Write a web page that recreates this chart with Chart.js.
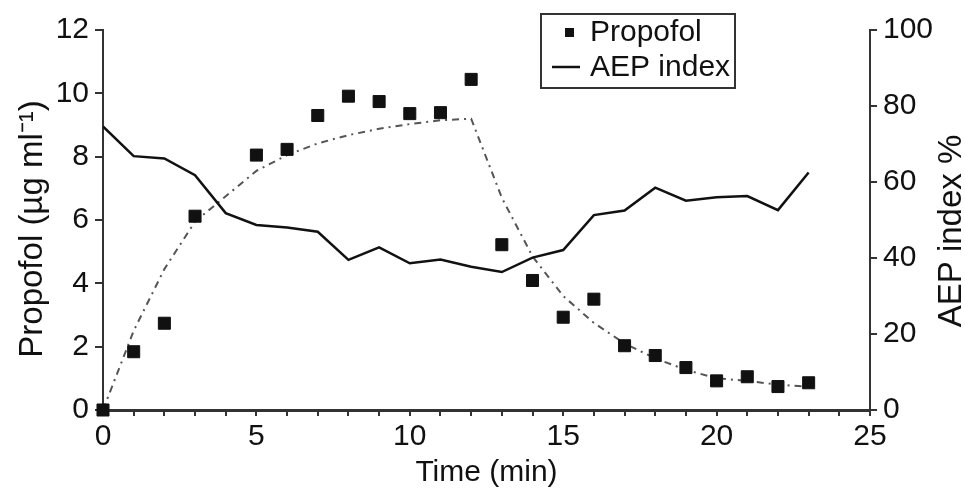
<!DOCTYPE html>
<html>
<head>
<meta charset="utf-8">
<script src="https://cdn.jsdelivr.net/npm/chart.js@4.4.1/dist/chart.umd.min.js"></script>
<style>
html, body { margin: 0; padding: 0; background: #fff; }
</style>
</head>
<body>
<canvas id="aep" width="965" height="493"></canvas>
<script>
// values, one per minute
const minutes = [0, 1, 2, 3, 4, 5, 6, 7, 8, 9, 10, 11, 12, 13, 14, 15, 16, 17, 18, 19, 20, 21, 22, 23];
const propofol = [0, 1.84, 2.74, 6.12, null, 8.05, 8.23, 9.3, 9.91, 9.74, 9.36, 9.39, 10.44, 5.22, 4.09, 2.93, 3.5, 2.03, 1.72, 1.34, 0.92, 1.05, 0.74, 0.86];
const propofolFit = [0, 2.5, 4.45, 5.95, 6.75, 7.55, 8.05, 8.42, 8.68, 8.88, 9.03, 9.15, 9.2, 6.7, 4.85, 3.6, 2.75, 2.1, 1.63, 1.27, 1.0, 0.92, 0.8, 0.74];
const aepIndex = [74.6, 66.8, 66.2, 61.8, 51.8, 48.7, 48.0, 46.9, 39.5, 42.8, 38.6, 39.6, 37.7, 36.3, 40.1, 42.1, 51.3, 52.5, 58.5, 55.1, 56.0, 56.3, 52.6, 62.5];
const timeLabelStep = 5;
const leftTitle = 'Propofol (µg ml⁻¹)';
const rightTitle = 'AEP index %';

const FONT = '"Liberation Sans", Arial, sans-serif';
const INK = '#111';

function pts(ys) {
    return minutes.map((m, i) => ({ x: m, y: ys[i] }));
}

// y titles + boxed legend drawn by hand (right title reads bottom-to-top)
const extras = {
    id: 'extras',
    afterDraw(chart) {
        const ctx = chart.ctx;
        ctx.save();
        ctx.fillStyle = INK;
        ctx.font = '33px ' + FONT;
        ctx.textAlign = 'center';
        ctx.textBaseline = 'alphabetic';
        ctx.save(); ctx.translate(42, 229); ctx.rotate(-Math.PI / 2); ctx.fillText(leftTitle, 0, 0); ctx.restore();
        ctx.save(); ctx.translate(961, 231); ctx.rotate(-Math.PI / 2); ctx.fillText(rightTitle, 0, 0); ctx.restore();

        // legend
        ctx.strokeStyle = '#333';
        ctx.lineWidth = 2;
        ctx.fillStyle = '#fff';
        ctx.fillRect(541, 14, 194, 74);
        ctx.strokeRect(541, 14, 194, 74);
        ctx.fillStyle = INK;
        ctx.fillRect(565, 28, 9, 9);
        ctx.beginPath(); ctx.moveTo(552, 67); ctx.lineTo(580, 67); ctx.lineWidth = 2.5; ctx.strokeStyle = INK; ctx.stroke();
        ctx.font = '30px ' + FONT;
        ctx.textAlign = 'left';
        ctx.textBaseline = 'middle';
        ctx.fillText(chart.data.datasets[0].label, 590, 33);
        ctx.fillText(chart.data.datasets[1].label, 590, 68);
        ctx.restore();
    }
};

new Chart(document.getElementById('aep'), {
    type: 'scatter',
    data: {
        datasets: [{
            label: 'Propofol',
            data: pts(propofol),
            yAxisID: 'y',
            pointStyle: 'rect',
            pointRadius: 8.5,
            backgroundColor: INK,
            borderColor: INK,
            borderWidth: 1,
            showLine: false,
            clip: false
        }, {
            label: 'AEP index',
            data: pts(aepIndex),
            yAxisID: 'y1',
            showLine: true,
            borderColor: INK,
            borderWidth: 2.5,
            pointRadius: 0,
            tension: 0
        }, {
            label: 'fit',
            data: pts(propofolFit),
            yAxisID: 'y',
            showLine: true,
            borderColor: '#555',
            borderWidth: 2,
            borderDash: [7, 5, 2, 5],
            pointRadius: 0,
            tension: 0
        }]
    },
    options: {
        responsive: false,
        animation: false,
        devicePixelRatio: 1,
        layout: { padding: { top: 30, left: 0, right: 0, bottom: 0 } },
        plugins: { legend: { display: false }, tooltip: { enabled: false } },
        scales: {
            x: {
                type: 'linear', min: 0, max: 25,
                afterFit: s => { s.height = 83; },
                ticks: {
                    stepSize: 1, autoSkip: false, maxRotation: 0, padding: 3,
                    color: INK, font: { family: FONT, size: 30 },
                    callback: v => (v % timeLabelStep === 0 ? v : '')
                },
                grid: { drawOnChartArea: false, drawTicks: true, tickLength: 6, color: '#333', lineWidth: 2 },
                border: { display: true, color: '#333', width: 3 },
                title: { display: true, text: 'Time (min)', color: INK, font: { family: FONT, size: 30 }, padding: { top: 0, bottom: 2 } }
            },
            y: {
                position: 'left', min: 0, max: 12,
                afterFit: s => { s.width = 103; },
                ticks: { stepSize: 2, padding: 6, color: INK, font: { family: FONT, size: 30 } },
                grid: { drawOnChartArea: false, drawTicks: true, tickLength: 8, color: '#333', lineWidth: 2 },
                border: { display: true, color: '#333', width: 2 }
            },
            y1: {
                position: 'right', min: 0, max: 100,
                afterFit: s => { s.width = 95; },
                ticks: { stepSize: 20, padding: 6, color: INK, font: { family: FONT, size: 30 } },
                grid: { drawOnChartArea: false, drawTicks: true, tickLength: 7, color: '#333', lineWidth: 2 },
                border: { display: true, color: '#333', width: 2 }
            }
        }
    },
    plugins: [extras]
});
</script>
</body>
</html>
